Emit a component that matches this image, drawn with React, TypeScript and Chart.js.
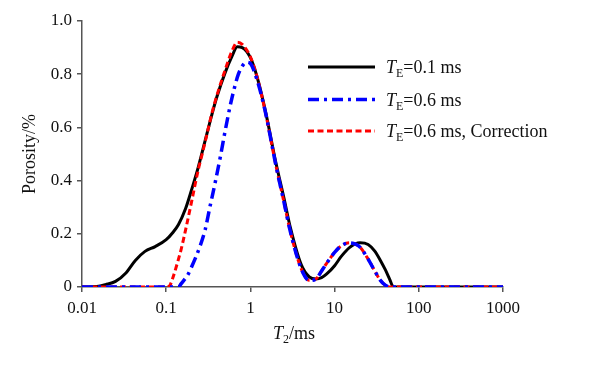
import React, { useEffect, useRef } from "react";
import { Chart, registerables } from "chart.js";

Chart.register(...registerables);

// ---- data ----
const xTickValues = [0.01, 0.1, 1, 10, 100, 1000];
const xTickLabels = ["0.01", "0.1", "1", "10", "100", "1000"];
const yTickLabels = ["0", "0.2", "0.4", "0.6", "0.8", "1.0"];

const blackT2 = [0.01, 0.015, 0.019, 0.025, 0.033, 0.043, 0.056, 0.074, 0.1, 0.12, 0.14, 0.17, 0.2, 0.24, 0.29, 0.35, 0.4, 0.5, 0.6, 0.7, 0.8, 1, 1.2, 1.5, 2, 2.5, 3, 4, 5, 6, 7, 8, 10, 12, 15, 20, 25, 30, 35, 40, 45, 50, 100, 1000];
const blackPorosity = [0, 0.002, 0.009, 0.021, 0.052, 0.1, 0.134, 0.152, 0.178, 0.205, 0.235, 0.295, 0.365, 0.45, 0.55, 0.65, 0.715, 0.805, 0.865, 0.903, 0.9, 0.862, 0.79, 0.665, 0.47, 0.335, 0.22, 0.085, 0.038, 0.03, 0.035, 0.048, 0.08, 0.115, 0.148, 0.166, 0.16, 0.135, 0.1, 0.065, 0.03, 0, 0, 0];

const blueT2 = [0.01, 0.1, 0.14, 0.15, 0.18, 0.2, 0.25, 0.29, 0.33, 0.38, 0.44, 0.5, 0.57, 0.63, 0.72, 0.8, 0.9, 1, 1.2, 1.5, 2, 2.5, 3, 4, 5, 6, 7, 8, 10, 12, 15, 18, 20, 25, 30, 35, 40, 45, 100, 1000];
const bluePorosity = [0, 0, 0, 0.012, 0.045, 0.075, 0.15, 0.215, 0.3, 0.39, 0.49, 0.585, 0.675, 0.735, 0.8, 0.83, 0.845, 0.84, 0.778, 0.66, 0.46, 0.32, 0.205, 0.07, 0.025, 0.03, 0.06, 0.088, 0.13, 0.155, 0.166, 0.16, 0.15, 0.105, 0.06, 0.025, 0.007, 0, 0, 0];

const redT2 = [0.01, 0.05, 0.1, 0.11, 0.12, 0.13, 0.15, 0.17, 0.2, 0.24, 0.27, 0.3, 0.35, 0.4, 0.5, 0.6, 0.7, 0.8, 1, 1.2, 1.5, 2, 2.5, 3, 4, 5, 6, 7, 8, 10, 12, 15, 18, 20, 25, 30, 35, 40, 45, 100, 1000];
const redPorosity = [0, 0, 0, 0.005, 0.035, 0.07, 0.14, 0.215, 0.32, 0.44, 0.505, 0.565, 0.655, 0.72, 0.815, 0.885, 0.92, 0.912, 0.865, 0.79, 0.66, 0.46, 0.32, 0.205, 0.07, 0.025, 0.03, 0.06, 0.088, 0.13, 0.155, 0.166, 0.16, 0.15, 0.105, 0.06, 0.025, 0.007, 0, 0, 0];

const seriesSuffix = ["=0.1 ms", "=0.6 ms", "=0.6 ms, Correction"];
const seriesColors = ["#000000", "#0000ff", "#ff0000"];
const seriesDash = [[], [11, 5, 3, 5], [6, 3.5]];

const FONT = "'Liberation Serif', 'Times New Roman', serif";
const TEXT = "#111111";
const AXIS = "#555555";

function drawRich(ctx: CanvasRenderingContext2D, x: number, y: number, parts: { t: string; font: string; dy?: number }[]) {
  let cx = x;
  for (const p of parts) {
    ctx.font = p.font;
    ctx.fillText(p.t, cx, y + (p.dy || 0));
    cx += ctx.measureText(p.t).width;
  }
  return cx;
}

const textPlugin = {
  id: "customText",
  afterDraw(chart: any) {
    const ctx: CanvasRenderingContext2D = chart.ctx;
    ctx.save();
    ctx.fillStyle = TEXT;
    ctx.textBaseline = "alphabetic";
    ctx.textAlign = "left";
    // legend
    const rowsY = [67, 99.5, 131];
    for (let i = 0; i < 3; i++) {
      const y = rowsY[i];
      ctx.save();
      ctx.strokeStyle = seriesColors[i];
      ctx.lineWidth = i === 1 ? 3.5 : 3;
      ctx.setLineDash(seriesDash[i]);
      ctx.beginPath();
      ctx.moveTo(308, y);
      ctx.lineTo(375, y);
      ctx.stroke();
      ctx.restore();
      drawRich(ctx, 386, y + 6, [
        { t: "T", font: `italic 18px ${FONT}` },
        { t: "E", font: `12px ${FONT}`, dy: 4 },
        { t: seriesSuffix[i], font: `18px ${FONT}` },
      ]);
    }
    // x title
    const parts = [
      { t: "T", font: `italic 18px ${FONT}` },
      { t: "2", font: `12px ${FONT}`, dy: 4 },
      { t: "/ms", font: `18px ${FONT}` },
    ];
    let w = 0;
    for (const p of parts) {
      ctx.font = p.font;
      w += ctx.measureText(p.t).width;
    }
    drawRich(ctx, 294 - w / 2, 339, parts);
    // y title
    ctx.save();
    ctx.translate(30, 154);
    ctx.rotate(-Math.PI / 2);
    ctx.textAlign = "center";
    ctx.textBaseline = "middle";
    ctx.font = `18px ${FONT}`;
    ctx.fillText("Porosity/%", 0, 0);
    ctx.restore();
    ctx.restore();
  },
};

export default function App() {
  const ref = useRef<HTMLCanvasElement>(null);
  useEffect(() => {
    document.body.style.margin = "0";
    const toPts = (xs: number[], ys: number[]) => xs.map((x, i) => ({ x, y: ys[i] }));
    const chart = new Chart(ref.current!, {
      type: "line",
      data: {
        datasets: [
          {
            label: "TE=0.1 ms",
            data: toPts(blackT2, blackPorosity),
            borderColor: seriesColors[0],
            borderWidth: 3,
            borderDash: seriesDash[0],
            pointRadius: 0,
            cubicInterpolationMode: "monotone",
            fill: false,
            order: 2,
          },
          {
            label: "TE=0.6 ms",
            data: toPts(blueT2, bluePorosity),
            borderColor: seriesColors[1],
            borderWidth: 3.5,
            borderDash: seriesDash[1],
            pointRadius: 0,
            cubicInterpolationMode: "monotone",
            fill: false,
            order: 0,
          },
          {
            label: "TE=0.6 ms, Correction",
            data: toPts(redT2, redPorosity),
            borderColor: seriesColors[2],
            borderWidth: 3,
            borderDash: seriesDash[2],
            pointRadius: 0,
            cubicInterpolationMode: "monotone",
            fill: false,
            order: 1,
          },
        ],
      },
      options: {
        responsive: false,
        animation: false,
        devicePixelRatio: 1,
        layout: { padding: { top: 21, right: 95, left: 0, bottom: 0 } },
        plugins: { legend: { display: false }, tooltip: { enabled: false } },
        scales: {
          x: {
            type: "logarithmic",
            min: 0.01,
            max: 1000,
            afterBuildTicks: (s: any) => {
              s.ticks = xTickValues.map((v) => ({ value: v }));
            },
            afterFit: (s: any) => {
              s.height = 79;
            },
            ticks: {
              autoSkip: false,
              maxRotation: 0,
              padding: 6,
              color: TEXT,
              font: { family: FONT, size: 17 },
              callback: (_v: any, i: number) => xTickLabels[i],
            },
            grid: { display: true, drawOnChartArea: false, drawTicks: true, tickLength: 5, color: AXIS, lineWidth: 1.5 },
            border: { display: true, color: AXIS, width: 1.5 },
          },
          y: {
            min: 0,
            max: 1,
            afterFit: (s: any) => {
              s.width = 82;
            },
            ticks: {
              stepSize: 0.2,
              padding: 5,
              color: TEXT,
              font: { family: FONT, size: 17 },
              callback: (_v: any, i: number) => yTickLabels[i],
            },
            grid: { display: true, drawOnChartArea: false, drawTicks: true, tickLength: 5, color: AXIS, lineWidth: 1.5 },
            border: { display: true, color: AXIS, width: 1.5 },
          },
        },
      },
      plugins: [textPlugin],
    } as any);
    return () => chart.destroy();
  }, []);
  return (
    <div style={{ width: 598, height: 366, background: "#fff" }}>
      <canvas ref={ref} width={598} height={366} style={{ display: "block" }} />
    </div>
  );
}
